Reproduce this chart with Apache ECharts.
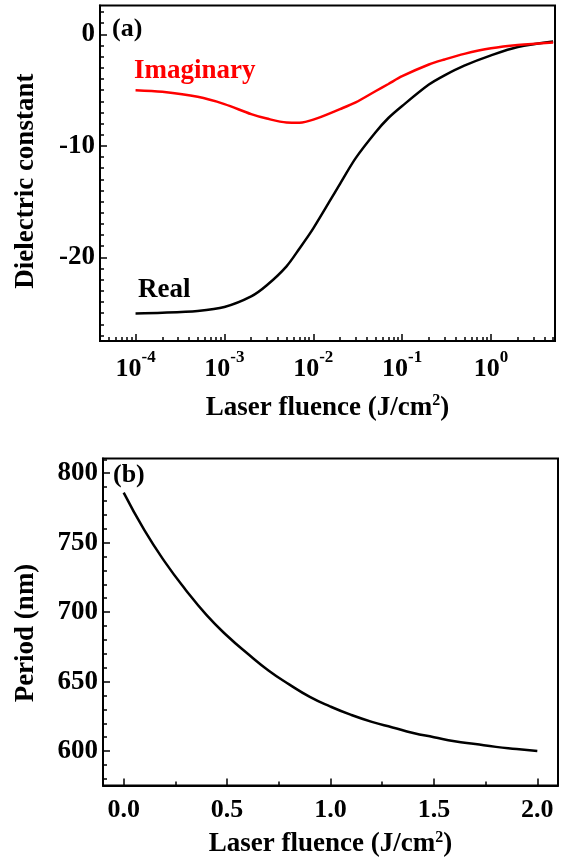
<!DOCTYPE html>
<html><head><meta charset="utf-8">
<script src="https://cdn.jsdelivr.net/npm/echarts@6/dist/echarts.min.js"></script>
<style>html,body{margin:0;padding:0;background:#fff}#c{width:561px;height:859px}</style>
</head><body><div id="c"></div>
<script>
// ---- Panel (a): dielectric constant vs laser fluence (log x) ----
const fluenceA = [1e-4, 2e-4, 5e-4, 1e-3, 2e-3, 3e-3, 5e-3, 7e-3, 1e-2, 2e-2, 3e-2, 5e-2, 7e-2, 1e-1, 2e-1, 3e-1, 5e-1, 1, 2, 5];
const realEps = [-25.03, -24.97, -24.8, -24.45, -23.5, -22.5, -20.8, -19.2, -17.4, -13.4, -11.1, -8.8, -7.5, -6.42, -4.5, -3.67, -2.8, -1.88, -1.13, -0.63];
const imagEps = [-5.0, -5.15, -5.6, -6.25, -7.15, -7.55, -7.9, -7.92, -7.65, -6.7, -6.1, -5.1, -4.45, -3.75, -2.7, -2.25, -1.75, -1.25, -0.95, -0.72];
const decadesA = [-4, -3, -2, -1, 0];
const yLabelsA = [-20, -10, 0];

// ---- Panel (b): period vs laser fluence ----
const fluenceB = [0, 0.1, 0.2, 0.3, 0.4, 0.5, 0.6, 0.7, 0.8, 0.9, 1.0, 1.1, 1.2, 1.3, 1.4, 1.5, 1.6, 1.7, 1.8, 1.9, 2.0];
const periodB = [786, 759, 736, 716, 698, 683, 670, 658, 648, 639, 632, 626, 621, 617, 613, 610, 607, 605, 603, 601.5, 600];
const xLabelsB = [0, 0.5, 1.0, 1.5, 2.0];
const yLabelsB = [600, 650, 700, 750, 800];

// minor tick positions
const minorXA = [];
for (let n = -5; n <= 0; n++) for (let k = 2; k <= 9; k++) {
  const v = Math.log10(k * Math.pow(10, n));
  if (v > -4.4 && v < 0.72) minorXA.push(v);
}
const minorYA = []; for (let v = -27; v <= 2; v++) minorYA.push(v);
const minorXB = [0.25, 0.75, 1.25, 1.75];
const minorYB = []; for (let v = 580; v <= 810; v += 10) minorYB.push(v);

const FONT = '"Liberation Serif","Times New Roman",serif';
const txt = (size, extra) => Object.assign({fontFamily: FONT, fontWeight: 'bold', fontSize: size, color: '#000'}, extra || {});
const supRich = {s: txt(16, {padding: [0, 0, 14, 0]})};

function majorX(grid, min, max, vals, fmt, rich, margin, name, nameGap) {
  return {gridIndex: grid, type: 'value', position: 'bottom', min: min, max: max,
    axisLine: {show: true, onZero: false, lineStyle: {color: '#000', width: 2}},
    splitLine: {show: false},
    axisTick: {show: true, inside: true, length: 7, lineStyle: {color: '#000', width: 1.5}, customValues: vals},
    axisLabel: Object.assign(txt(26), {customValues: vals, margin: margin, formatter: fmt, rich: rich}),
    name: name, nameLocation: 'middle', nameGap: nameGap,
    nameTextStyle: Object.assign(txt(27), {rich: supRich})};
}
function minorX(grid, min, max, vals) {
  return {gridIndex: grid, type: 'value', position: 'bottom', min: min, max: max,
    axisLine: {show: false, onZero: false}, splitLine: {show: false}, axisLabel: {show: false},
    axisTick: {show: true, inside: true, length: 4, lineStyle: {color: '#000', width: 1.5}, customValues: vals}};
}
function majorY(grid, min, max, vals, name, nameGap, shift) {
  return {gridIndex: grid, type: 'value', position: 'left', min: min, max: max,
    axisLine: {show: true, onZero: false, lineStyle: {color: '#000', width: 2}},
    splitLine: {show: false},
    axisTick: {show: true, inside: true, length: 7, lineStyle: {color: '#000', width: 1.5}, customValues: vals},
    axisLabel: Object.assign(txt(27), {customValues: vals, margin: 5}),
    name: name, nameLocation: 'middle', nameGap: nameGap,
    nameTextStyle: Object.assign(txt(27), {padding: [0, shift, 0, 0]})};
}
function minorY(grid, min, max, vals) {
  return {gridIndex: grid, type: 'value', position: 'left', min: min, max: max,
    axisLine: {show: false, onZero: false}, splitLine: {show: false}, axisLabel: {show: false},
    axisTick: {show: true, inside: true, length: 4, lineStyle: {color: '#000', width: 1.5}, customValues: vals}};
}

const chart = echarts.init(document.getElementById('c'), null, {renderer: 'canvas'});
chart.setOption({
  animation: false,
  backgroundColor: '#fff',
  grid: [
    {left: 100, top: 5.4, width: 455, height: 335.6, show: true, borderColor: '#000', borderWidth: 2, containLabel: false},
    {left: 103, top: 458.5, width: 455, height: 334.5, show: true, borderColor: '#000', borderWidth: 2, containLabel: false}
  ],
  xAxis: [
    majorX(0, -4.4, 0.72, decadesA, v => '{b|10}{e|' + v + '}',
      {b: txt(26), e: txt(17, {padding: [0, 0, 24, 0]})}, 8, 'Laser fluence (J/cm{s|2})', 52),
    minorX(0, -4.4, 0.72, minorXA),
    majorX(1, -0.1, 2.1, xLabelsB, v => v.toFixed(1), null, 12, 'Laser fluence (J/cm{s|2})', 44),
    minorX(1, -0.1, 2.1, minorXB)
  ],
  yAxis: [
    majorY(0, -27.5, 2.6, yLabelsA, 'Dielectric constant', 60, 16),
    minorY(0, -27.5, 2.6, minorYA),
    majorY(1, 575.2, 810.6, yLabelsB, 'Period (nm)', 63, 22),
    minorY(1, 575.2, 810.6, minorYB)
  ],
  series: [
    {type: 'line', name: 'Real', xAxisIndex: 0, yAxisIndex: 0, showSymbol: false, smooth: 0.3,
      lineStyle: {color: '#000', width: 2.5}, itemStyle: {color: '#000'},
      data: fluenceA.map((f, i) => [Math.log10(f), realEps[i]])},
    {type: 'line', name: 'Imaginary', xAxisIndex: 0, yAxisIndex: 0, showSymbol: false, smooth: 0.3,
      lineStyle: {color: '#ff0000', width: 2.5}, itemStyle: {color: '#ff0000'},
      data: fluenceA.map((f, i) => [Math.log10(f), imagEps[i]])},
    {type: 'line', name: 'Period', xAxisIndex: 2, yAxisIndex: 2, showSymbol: false, smooth: true,
      lineStyle: {color: '#000', width: 2.5}, itemStyle: {color: '#000'},
      data: fluenceB.map((f, i) => [f, periodB[i]])}
  ],
  graphic: [
    {type: 'text', x: 112, y: 29, style: {text: '(a)', font: 'bold 26px ' + FONT, fill: '#000', verticalAlign: 'middle'}},
    {type: 'text', x: 113, y: 475, style: {text: '(b)', font: 'bold 26px ' + FONT, fill: '#000', verticalAlign: 'middle'}},
    {type: 'text', x: 134, y: 71, style: {text: 'Imaginary', font: 'bold 27px ' + FONT, fill: '#ff0000', verticalAlign: 'middle'}},
    {type: 'text', x: 138, y: 290, style: {text: 'Real', font: 'bold 27px ' + FONT, fill: '#000', verticalAlign: 'middle'}}
  ]
});
</script></body></html>
